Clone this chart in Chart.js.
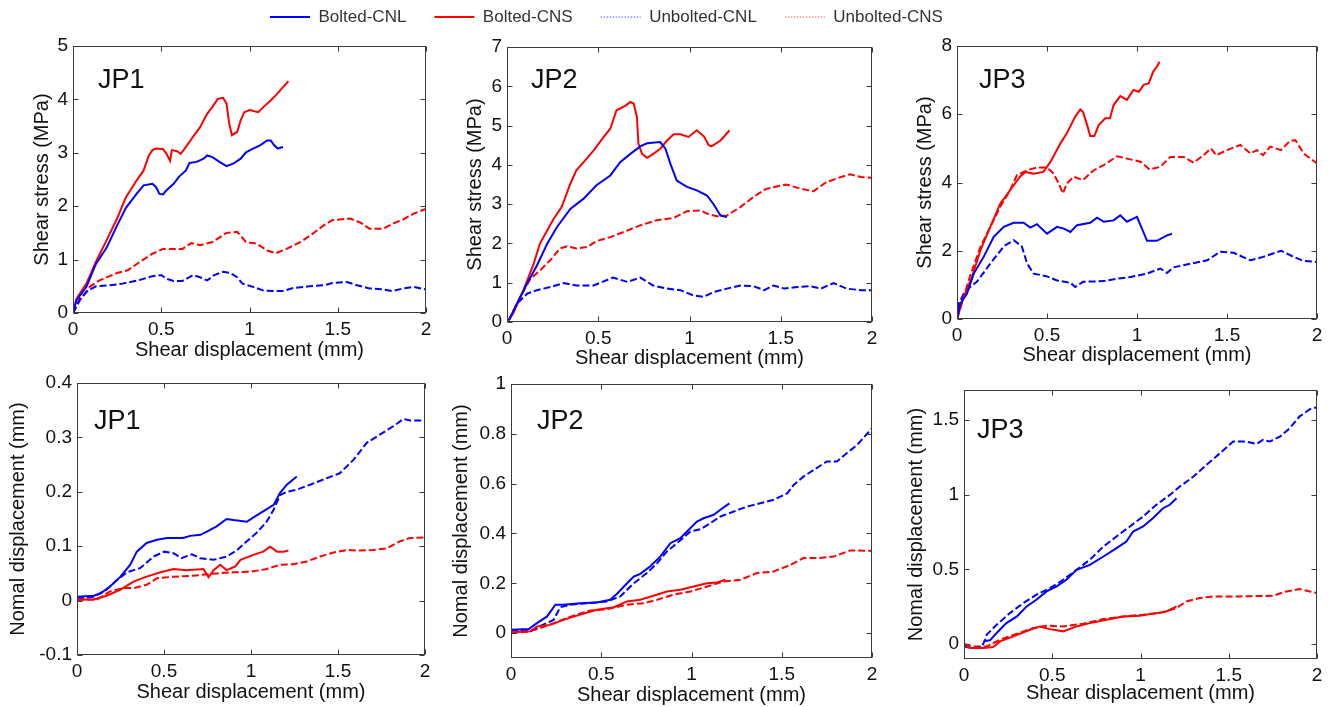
<!DOCTYPE html>
<html>
<head>
<meta charset="utf-8">
<script src="https://cdn.jsdelivr.net/npm/chart.js@4.4.1/dist/chart.umd.min.js"></script>
<style>
  html, body { margin: 0; padding: 0; background: #ffffff; width: 1333px; height: 707px; overflow: hidden; }
  canvas { position: absolute; }
</style>
</head>
<body>
<canvas id="legend"></canvas>
<canvas id="p1"></canvas>
<canvas id="p2"></canvas>
<canvas id="p3"></canvas>
<canvas id="p4"></canvas>
<canvas id="p5"></canvas>
<canvas id="p6"></canvas>
<script>
// ---- Axis ticks ----
const shearDispTicks = [0, 0.5, 1, 1.5, 2];
const stressTicksJP1 = [0, 1, 2, 3, 4, 5];
const stressTicksJP2 = [0, 1, 2, 3, 4, 5, 6, 7];
const stressTicksJP3 = [0, 2, 4, 6, 8];
const normalTicksJP1 = [-0.1, 0, 0.1, 0.2, 0.3, 0.4];
const normalTicksJP2 = [0, 0.2, 0.4, 0.6, 0.8, 1];
const normalTicksJP3 = [0, 0.5, 1, 1.5];

const seriesNames = ['Bolted-CNL', 'Bolted-CNS', 'Unbolted-CNL', 'Unbolted-CNS'];

// ---- Shear stress (MPa) vs shear displacement (mm) ----
const jp1StressBoltedCNL = [[0,0],[0.02,0.24],[0.076,0.49],[0.13,0.92],[0.19,1.22],[0.25,1.64],[0.30,1.97],[0.36,2.23],[0.40,2.39],[0.45,2.42],[0.47,2.36],[0.49,2.23],[0.51,2.22],[0.53,2.30],[0.57,2.42],[0.60,2.55],[0.64,2.67],[0.66,2.81],[0.70,2.83],[0.74,2.89],[0.76,2.95],[0.79,2.92],[0.83,2.83],[0.87,2.75],[0.91,2.80],[0.95,2.89],[0.98,3.01],[1.02,3.08],[1.06,3.14],[1.10,3.23],[1.12,3.23],[1.14,3.14],[1.16,3.08],[1.19,3.11]];
const jp1StressBoltedCNS = [[0,0],[0.02,0.27],[0.076,0.55],[0.13,0.96],[0.19,1.36],[0.25,1.77],[0.30,2.17],[0.36,2.48],[0.40,2.67],[0.43,2.95],[0.45,3.05],[0.47,3.08],[0.51,3.07],[0.53,2.98],[0.55,2.85],[0.56,3.05],[0.59,3.03],[0.61,2.98],[0.64,3.11],[0.68,3.30],[0.72,3.48],[0.76,3.73],[0.79,3.86],[0.82,4.01],[0.85,4.03],[0.87,3.92],[0.885,3.55],[0.90,3.33],[0.93,3.39],[0.95,3.61],[0.97,3.76],[1.00,3.80],[1.05,3.76],[1.08,3.86],[1.12,3.98],[1.15,4.08],[1.19,4.23],[1.22,4.34]];
const jp1StressUnboltedCNL = [[0,0],[0.04,0.27],[0.085,0.42],[0.13,0.50],[0.21,0.52],[0.28,0.55],[0.38,0.62],[0.45,0.69],[0.50,0.71],[0.53,0.64],[0.57,0.60],[0.62,0.60],[0.68,0.71],[0.72,0.67],[0.76,0.61],[0.80,0.71],[0.85,0.77],[0.89,0.75],[0.93,0.67],[0.96,0.55],[1.02,0.49],[1.08,0.42],[1.13,0.41],[1.19,0.41],[1.25,0.47],[1.34,0.50],[1.42,0.52],[1.47,0.56],[1.55,0.58],[1.61,0.52],[1.68,0.46],[1.76,0.44],[1.81,0.41],[1.87,0.46],[1.93,0.49],[2.0,0.44]];
const jp1StressUnboltedCNS = [[0,0],[0.04,0.24],[0.095,0.49],[0.15,0.61],[0.25,0.75],[0.31,0.80],[0.38,0.96],[0.45,1.11],[0.51,1.20],[0.57,1.20],[0.62,1.20],[0.67,1.31],[0.72,1.27],[0.79,1.33],[0.87,1.50],[0.93,1.52],[0.98,1.33],[1.04,1.30],[1.10,1.17],[1.15,1.12],[1.21,1.20],[1.29,1.33],[1.36,1.49],[1.42,1.64],[1.47,1.74],[1.57,1.77],[1.63,1.69],[1.68,1.58],[1.76,1.58],[1.81,1.67],[1.87,1.75],[1.93,1.86],[2.0,1.95]];

const jp2StressBoltedCNL = [[0.01,0.04],[0.055,0.47],[0.11,0.98],[0.164,1.44],[0.22,1.99],[0.274,2.42],[0.347,2.88],[0.42,3.14],[0.49,3.48],[0.566,3.73],[0.62,4.07],[0.676,4.28],[0.73,4.47],[0.767,4.55],[0.84,4.58],[0.868,4.41],[0.895,4.03],[0.93,3.60],[0.986,3.44],[1.04,3.35],[1.096,3.22],[1.13,3.01],[1.17,2.71],[1.205,2.67]];
const jp2StressBoltedCNS = [[0.01,0.04],[0.037,0.25],[0.09,0.81],[0.146,1.48],[0.18,1.99],[0.22,2.33],[0.256,2.63],[0.30,2.93],[0.347,3.52],[0.38,3.86],[0.42,4.07],[0.475,4.37],[0.53,4.71],[0.566,4.92],[0.60,5.39],[0.65,5.51],[0.676,5.60],[0.694,5.56],[0.712,5.22],[0.72,4.54],[0.74,4.28],[0.767,4.18],[0.79,4.24],[0.84,4.41],[0.877,4.62],[0.913,4.78],[0.95,4.78],[0.995,4.71],[1.04,4.88],[1.08,4.72],[1.105,4.50],[1.12,4.47],[1.17,4.62],[1.22,4.88]];
const jp2StressUnboltedCNL = [[0.01,0.04],[0.055,0.47],[0.11,0.72],[0.164,0.81],[0.237,0.89],[0.31,0.99],[0.38,0.93],[0.475,0.93],[0.58,1.13],[0.66,1.02],[0.73,1.13],[0.80,0.93],[0.877,0.85],[0.95,0.81],[1.02,0.68],[1.078,0.64],[1.13,0.76],[1.205,0.85],[1.28,0.93],[1.35,0.91],[1.41,0.81],[1.46,0.93],[1.52,0.85],[1.59,0.89],[1.66,0.91],[1.72,0.85],[1.79,0.99],[1.86,0.85],[1.94,0.81],[2.0,0.81]];
const jp2StressUnboltedCNS = [[0.01,0.04],[0.073,0.64],[0.128,1.10],[0.18,1.31],[0.237,1.57],[0.29,1.87],[0.33,1.93],[0.38,1.87],[0.44,1.91],[0.49,2.06],[0.566,2.16],[0.66,2.33],[0.73,2.46],[0.82,2.59],[0.913,2.65],[0.986,2.82],[1.06,2.84],[1.096,2.76],[1.15,2.69],[1.205,2.71],[1.28,2.93],[1.35,3.18],[1.42,3.39],[1.53,3.50],[1.61,3.39],[1.68,3.33],[1.75,3.56],[1.83,3.69],[1.88,3.76],[1.94,3.69],[2.0,3.67]];

const jp3StressBoltedCNL = [[0,0],[0.0185,0.45],[0.055,0.74],[0.093,1.33],[0.148,1.82],[0.204,2.41],[0.26,2.70],[0.315,2.82],[0.37,2.82],[0.407,2.68],[0.444,2.78],[0.5,2.50],[0.556,2.70],[0.593,2.65],[0.63,2.55],[0.667,2.75],[0.74,2.82],[0.778,2.97],[0.815,2.85],[0.87,2.89],[0.907,3.04],[0.944,2.85],[1.0,2.99],[1.015,2.80],[1.056,2.29],[1.11,2.29],[1.167,2.45],[1.194,2.50]];
const jp3StressBoltedCNS = [[0,0],[0.037,0.65],[0.083,1.23],[0.13,2.01],[0.185,2.70],[0.24,3.38],[0.296,3.78],[0.35,4.17],[0.38,4.31],[0.426,4.26],[0.48,4.31],[0.52,4.61],[0.574,5.14],[0.61,5.44],[0.657,5.93],[0.685,6.14],[0.70,6.07],[0.726,5.63],[0.74,5.36],[0.763,5.36],[0.787,5.68],[0.824,5.88],[0.85,5.88],[0.87,6.27],[0.907,6.53],[0.944,6.42],[0.98,6.71],[1.01,6.66],[1.037,6.86],[1.065,6.90],[1.09,7.25],[1.11,7.39],[1.126,7.54]];
const jp3StressUnboltedCNL = [[0,0],[0.01,0.45],[0.037,0.74],[0.074,0.94],[0.11,1.09],[0.185,1.62],[0.26,2.13],[0.315,2.31],[0.36,2.13],[0.39,1.62],[0.426,1.33],[0.5,1.25],[0.556,1.13],[0.63,1.06],[0.657,0.94],[0.70,1.09],[0.815,1.11],[0.89,1.18],[0.963,1.23],[1.056,1.33],[1.13,1.48],[1.167,1.35],[1.2,1.51],[1.296,1.62],[1.39,1.72],[1.463,1.97],[1.537,1.94],[1.63,1.72],[1.70,1.82],[1.80,2.00],[1.87,1.82],[1.926,1.70],[2.0,1.67]];
const jp3StressUnboltedCNS = [[0,0],[0.037,0.65],[0.074,1.28],[0.13,2.11],[0.185,2.70],[0.24,3.29],[0.296,3.78],[0.333,4.22],[0.39,4.36],[0.444,4.44],[0.5,4.44],[0.537,4.26],[0.565,3.97],[0.589,3.68],[0.61,3.97],[0.648,4.17],[0.70,4.07],[0.76,4.36],[0.815,4.51],[0.89,4.77],[0.944,4.70],[1.02,4.61],[1.07,4.38],[1.13,4.46],[1.185,4.75],[1.26,4.75],[1.315,4.58],[1.37,4.80],[1.41,5.00],[1.44,4.80],[1.5,4.95],[1.574,5.10],[1.63,4.85],[1.667,4.95],[1.70,4.80],[1.74,5.05],[1.80,4.95],[1.85,5.22],[1.88,5.24],[1.926,4.85],[2.0,4.56]];

// ---- Normal displacement (mm) vs shear displacement (mm) ----
const jp1NormalBoltedCNL = [[0,0.007],[0.096,0.009],[0.134,0.013],[0.19,0.026],[0.25,0.044],[0.306,0.066],[0.344,0.09],[0.40,0.106],[0.46,0.112],[0.517,0.115],[0.61,0.115],[0.65,0.119],[0.71,0.121],[0.746,0.127],[0.80,0.136],[0.86,0.15],[0.90,0.148],[0.976,0.145],[1.014,0.153],[1.07,0.164],[1.13,0.176],[1.167,0.198],[1.206,0.213],[1.263,0.228]];
const jp1NormalBoltedCNS = [[0,0.002],[0.096,0.002],[0.17,0.009],[0.25,0.02],[0.325,0.035],[0.40,0.044],[0.48,0.052],[0.555,0.058],[0.63,0.056],[0.727,0.058],[0.756,0.043],[0.785,0.056],[0.823,0.066],[0.86,0.056],[0.91,0.063],[0.94,0.075],[1.014,0.084],[1.07,0.09],[1.11,0.099],[1.15,0.09],[1.187,0.09],[1.215,0.092]];
const jp1NormalUnboltedCNL = [[0,0.004],[0.096,0.007],[0.17,0.02],[0.23,0.038],[0.287,0.052],[0.364,0.06],[0.44,0.081],[0.50,0.09],[0.555,0.087],[0.60,0.078],[0.66,0.085],[0.708,0.078],[0.785,0.075],[0.86,0.081],[0.92,0.093],[0.976,0.109],[1.03,0.124],[1.09,0.145],[1.13,0.167],[1.167,0.194],[1.206,0.20],[1.263,0.204],[1.34,0.213],[1.435,0.225],[1.51,0.234],[1.59,0.259],[1.665,0.29],[1.74,0.305],[1.82,0.321],[1.876,0.334],[1.914,0.331],[2.0,0.331]];
const jp1NormalUnboltedCNS = [[0,0.001],[0.115,0.002],[0.19,0.017],[0.268,0.023],[0.325,0.023],[0.40,0.029],[0.46,0.041],[0.555,0.044],[0.63,0.045],[0.708,0.047],[0.80,0.05],[0.90,0.052],[0.995,0.053],[1.09,0.058],[1.167,0.066],[1.244,0.067],[1.32,0.072],[1.397,0.081],[1.47,0.088],[1.55,0.093],[1.627,0.092],[1.70,0.093],[1.78,0.096],[1.856,0.109],[1.914,0.115],[2.0,0.116]];

const jp2NormalBoltedCNL = [[0,0.013],[0.098,0.016],[0.144,0.04],[0.2,0.067],[0.246,0.114],[0.29,0.114],[0.384,0.12],[0.476,0.123],[0.55,0.134],[0.59,0.16],[0.643,0.20],[0.68,0.227],[0.716,0.238],[0.77,0.267],[0.827,0.307],[0.883,0.361],[0.938,0.381],[0.975,0.408],[1.03,0.448],[1.067,0.461],[1.123,0.475],[1.16,0.495],[1.21,0.521]];
const jp2NormalBoltedCNS = [[0,0.003],[0.107,0.007],[0.144,0.027],[0.218,0.033],[0.29,0.053],[0.384,0.074],[0.476,0.094],[0.57,0.104],[0.643,0.127],[0.716,0.134],[0.79,0.15],[0.864,0.167],[0.938,0.174],[1.012,0.187],[1.086,0.20],[1.141,0.203],[1.187,0.214]];
const jp2NormalUnboltedCNL = [[0,0.011],[0.107,0.007],[0.163,0.029],[0.236,0.053],[0.273,0.104],[0.329,0.114],[0.42,0.12],[0.532,0.127],[0.606,0.147],[0.68,0.20],[0.753,0.241],[0.81,0.281],[0.864,0.328],[0.92,0.361],[0.994,0.408],[1.05,0.417],[1.104,0.441],[1.16,0.468],[1.234,0.488],[1.307,0.508],[1.38,0.521],[1.455,0.535],[1.53,0.561],[1.566,0.595],[1.62,0.628],[1.677,0.655],[1.75,0.689],[1.806,0.689],[1.86,0.722],[1.917,0.755],[2.0,0.822]];
const jp2NormalUnboltedCNS = [[0,0],[0.089,0.005],[0.163,0.02],[0.236,0.04],[0.347,0.07],[0.44,0.091],[0.532,0.096],[0.643,0.114],[0.735,0.12],[0.81,0.134],[0.90,0.154],[0.994,0.167],[1.086,0.187],[1.178,0.207],[1.27,0.214],[1.363,0.241],[1.455,0.247],[1.548,0.274],[1.62,0.301],[1.695,0.301],[1.787,0.307],[1.88,0.332],[2.0,0.33]];

const jp3NormalBoltedCNL = [[0.113,0.018],[0.147,0.025],[0.185,0.074],[0.24,0.14],[0.30,0.185],[0.355,0.252],[0.41,0.296],[0.468,0.352],[0.525,0.386],[0.58,0.43],[0.638,0.497],[0.713,0.53],[0.79,0.586],[0.864,0.642],[0.92,0.686],[0.958,0.753],[1.015,0.787],[1.07,0.842],[1.128,0.909],[1.166,0.932],[1.204,0.976]];
const jp3NormalBoltedCNS = [[0,-0.004],[0.034,-0.027],[0.11,-0.027],[0.166,-0.02],[0.204,0.018],[0.28,0.051],[0.374,0.096],[0.43,0.118],[0.487,0.10],[0.562,0.085],[0.638,0.118],[0.713,0.14],[0.808,0.163],[0.902,0.185],[0.996,0.189],[1.09,0.207],[1.147,0.218],[1.204,0.252]];
const jp3NormalUnboltedCNL = [[0,-0.016],[0.053,-0.027],[0.1,-0.02],[0.12,0.03],[0.128,0.062],[0.185,0.129],[0.26,0.207],[0.336,0.274],[0.41,0.33],[0.487,0.374],[0.562,0.43],[0.638,0.497],[0.713,0.564],[0.79,0.653],[0.864,0.72],[0.94,0.787],[1.015,0.854],[1.09,0.932],[1.166,0.998],[1.223,1.054],[1.30,1.121],[1.374,1.199],[1.45,1.277],[1.525,1.355],[1.6,1.355],[1.657,1.339],[1.694,1.366],[1.732,1.355],[1.79,1.388],[1.845,1.444],[1.9,1.522],[1.96,1.571],[2.0,1.585]];
const jp3NormalUnboltedCNS = [[0,0],[0.053,-0.016],[0.128,-0.016],[0.204,0.029],[0.30,0.069],[0.392,0.107],[0.468,0.123],[0.562,0.118],[0.675,0.136],[0.79,0.167],[0.902,0.185],[1.015,0.196],[1.128,0.212],[1.204,0.241],[1.26,0.285],[1.336,0.308],[1.41,0.319],[1.562,0.319],[1.75,0.323],[1.826,0.352],[1.9,0.368],[1.96,0.352],[2.0,0.341]];

// ---- Styling ----
const FONT = "'Liberation Sans', Arial, Helvetica, sans-serif";
const BLUE = '#0000ff';
const RED = '#ff0000';
const lineStyles = [
  { color: BLUE, dash: [] },
  { color: RED, dash: [] },
  { color: BLUE, dash: [7, 3] },
  { color: RED, dash: [7, 3] }
];
const legendStyles = [
  { color: BLUE, width: 2, dash: [] },
  { color: RED, width: 2, dash: [] },
  { color: '#4a5cff', width: 1, dash: [1.5, 1.5] },
  { color: '#ff5a5a', width: 1, dash: [1.5, 1.5] }
];

// Plot rectangle (left, top, right, bottom) and title offsets for each panel
const panels = [
  { id: 'p1', tag: 'JP1', yTitle: 'Shear stress (MPa)', yMin: 0, yMax: 5, yTicks: stressTicksJP1,
    series: [jp1StressBoltedCNL, jp1StressBoltedCNS, jp1StressUnboltedCNL, jp1StressUnboltedCNS],
    rect: [73, 46, 426, 313], yTitlePad: 32, xTitlePad: 1, tagAt: [25, 42] },
  { id: 'p2', tag: 'JP2', yTitle: 'Shear stress (MPa)', yMin: 0, yMax: 7, yTicks: stressTicksJP2,
    series: [jp2StressBoltedCNL, jp2StressBoltedCNS, jp2StressUnboltedCNL, jp2StressUnboltedCNS],
    rect: [507, 47, 872, 322], yTitlePad: 31, xTitlePad: 2, tagAt: [24, 41] },
  { id: 'p3', tag: 'JP3', yTitle: 'Shear stress (MPa)', yMin: 0, yMax: 8, yTicks: stressTicksJP3,
    series: [jp3StressBoltedCNL, jp3StressBoltedCNS, jp3StressUnboltedCNL, jp3StressUnboltedCNS],
    rect: [957, 46, 1317, 319], yTitlePad: 31, xTitlePad: 2, tagAt: [22, 42] },
  { id: 'p4', tag: 'JP1', yTitle: 'Nomal displacement (mm)', yMin: -0.1, yMax: 0.4, yTicks: normalTicksJP1,
    series: [jp1NormalBoltedCNL, jp1NormalBoltedCNS, jp1NormalUnboltedCNL, jp1NormalUnboltedCNS],
    rect: [77, 383, 425, 655], yTitlePad: 4, xTitlePad: 0.5, tagAt: [17, 46] },
  { id: 'p5', tag: 'JP2', yTitle: 'Nomal displacement (mm)', yMin: -0.1, yMax: 1, yTicks: normalTicksJP2,
    series: [jp2NormalBoltedCNL, jp2NormalBoltedCNS, jp2NormalUnboltedCNL, jp2NormalUnboltedCNS],
    rect: [511, 384, 872, 658], yTitlePad: 13.7, xTitlePad: 0.5, tagAt: [26, 45] },
  { id: 'p6', tag: 'JP3', yTitle: 'Nomal displacement (mm)', yMin: -0.1, yMax: 1.7, yTicks: normalTicksJP3,
    series: [jp3NormalBoltedCNL, jp3NormalBoltedCNS, jp3NormalUnboltedCNL, jp3NormalUnboltedCNS],
    rect: [964, 390, 1317, 659], yTitlePad: 15, xTitlePad: 3.5, tagAt: [13, 48] }
];

const Y_AXIS_W = 75, X_AXIS_H = 50, PAD_TOP = 20, PAD_RIGHT = 12;

// Box around the plot area with inward tick marks on all four sides, plus the panel tag
const framePlugin = {
  id: 'frame',
  afterDatasetsDraw(chart, args, opts) {
    const { ctx, chartArea: a, scales: { x, y } } = chart;
    const L = Math.round(a.left) + 0.5, R = Math.round(a.right) - 0.5;
    const T = Math.round(a.top) + 0.5, B = Math.round(a.bottom) - 0.5;
    const len = 5;
    ctx.save();
    ctx.strokeStyle = '#3a3a3a';
    ctx.lineWidth = 1;
    ctx.setLineDash([]);
    ctx.strokeRect(L, T, R - L, B - T);
    ctx.beginPath();
    x.ticks.forEach(t => {
      const px = Math.round(x.getPixelForValue(t.value)) + 0.5;
      ctx.moveTo(px, B); ctx.lineTo(px, B - len);
      ctx.moveTo(px, T); ctx.lineTo(px, T + len);
    });
    y.ticks.forEach(t => {
      const py = Math.round(y.getPixelForValue(t.value)) + 0.5;
      ctx.moveTo(L, py); ctx.lineTo(L + len, py);
      ctx.moveTo(R, py); ctx.lineTo(R - len, py);
    });
    ctx.stroke();
    ctx.fillStyle = '#111111';
    ctx.font = '27px ' + FONT;
    ctx.textAlign = 'left';
    ctx.textBaseline = 'alphabetic';
    ctx.fillText(opts.text, a.left + opts.dx, a.top + opts.dy);
    ctx.restore();
  }
};

function makePanel(p) {
  const [L, T, R, B] = p.rect;
  const cv = document.getElementById(p.id);
  const w = (R - L) + Y_AXIS_W + PAD_RIGHT;
  const h = (B - T) + PAD_TOP + X_AXIS_H;
  cv.width = w; cv.height = h;
  cv.style.left = (L - Y_AXIS_W) + 'px';
  cv.style.top = (T - PAD_TOP) + 'px';
  cv.style.width = w + 'px';
  cv.style.height = h + 'px';

  new Chart(cv, {
    type: 'line',
    data: {
      datasets: p.series.map((d, i) => ({
        label: seriesNames[i],
        data: d,
        borderColor: lineStyles[i].color,
        borderDash: lineStyles[i].dash,
        borderWidth: 2,
        pointRadius: 0,
        tension: 0,
        fill: false
      }))
    },
    options: {
      responsive: false,
      animation: false,
      devicePixelRatio: 1,
      layout: { padding: { left: 0, top: PAD_TOP, right: PAD_RIGHT, bottom: 0 } },
      plugins: {
        legend: { display: false },
        tooltip: { enabled: false },
        frame: { text: p.tag, dx: p.tagAt[0], dy: p.tagAt[1] }
      },
      scales: {
        x: {
          type: 'linear', min: 0, max: 2,
          grid: { display: false, drawTicks: false },
          border: { display: false },
          afterBuildTicks: s => { s.ticks = shearDispTicks.map(v => ({ value: v })); },
          afterFit: s => { s.height = X_AXIS_H; },
          ticks: { padding: 5, autoSkip: false, maxRotation: 0, color: '#111111',
                   font: { family: FONT, size: 19 }, callback: v => String(v) },
          title: { display: true, text: 'Shear displacement (mm)', color: '#111111',
                   font: { family: FONT, size: 20 }, padding: { top: 0, bottom: p.xTitlePad } }
        },
        y: {
          type: 'linear', min: p.yMin, max: p.yMax,
          grid: { display: false, drawTicks: false },
          border: { display: false },
          afterBuildTicks: s => { s.ticks = p.yTicks.map(v => ({ value: v })); },
          afterFit: s => { s.width = Y_AXIS_W; },
          ticks: { padding: 5, autoSkip: false, color: '#111111',
                   font: { family: FONT, size: 19 }, callback: v => String(v) },
          title: { display: true, text: p.yTitle, color: '#111111',
                   font: { family: FONT, size: 20 }, padding: { top: p.yTitlePad, bottom: 0 } }
        }
      }
    },
    plugins: [framePlugin]
  });
}

panels.forEach(makePanel);

// Shared legend across the top
(function makeLegend() {
  const cv = document.getElementById('legend');
  cv.width = 1333; cv.height = 120;
  cv.style.left = '0px'; cv.style.top = '-20px';
  cv.style.width = '1333px'; cv.style.height = '120px';
  new Chart(cv, {
    type: 'line',
    data: {
      datasets: seriesNames.map((name, i) => ({
        label: name, data: [], borderColor: legendStyles[i].color, borderWidth: legendStyles[i].width
      }))
    },
    options: {
      responsive: false,
      animation: false,
      devicePixelRatio: 1,
      layout: { padding: { left: 242, top: 0.5, right: 0, bottom: 0 } },
      scales: { x: { display: false }, y: { display: false } },
      plugins: {
        tooltip: { enabled: false },
        legend: {
          display: true,
          align: 'start',
          labels: {
            usePointStyle: true,
            pointStyle: 'line',
            pointStyleWidth: 40,
            padding: 28,
            color: '#333333',
            font: { family: FONT, size: 17 },
            generateLabels: () => seriesNames.map((name, i) => ({
              text: name,
              datasetIndex: i,
              hidden: false,
              pointStyle: 'line',
              strokeStyle: legendStyles[i].color,
              fillStyle: legendStyles[i].color,
              lineWidth: legendStyles[i].width,
              lineDash: legendStyles[i].dash,
              fontColor: '#333333'
            }))
          }
        }
      }
    }
  });
})();
</script>
</body>
</html>
